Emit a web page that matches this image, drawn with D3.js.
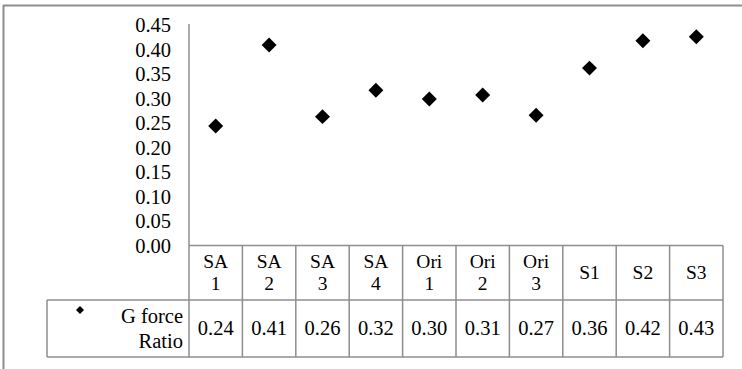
<!DOCTYPE html>
<html><head><meta charset="utf-8">
<script src="https://cdn.jsdelivr.net/npm/d3@7"></script>
<style>html,body{margin:0;padding:0;background:#fff;}svg{display:block;}</style>
</head><body>
<svg id="c" width="742" height="369"></svg>
<script>
const categories = ["SA 1","SA 2","SA 3","SA 4","Ori 1","Ori 2","Ori 3","S1","S2","S3"];
const gForceRatio = [0.244,0.409,0.263,0.317,0.299,0.307,0.266,0.362,0.418,0.426];
const yTicks = [0,0.05,0.10,0.15,0.20,0.25,0.30,0.35,0.40,0.45];
const seriesName = ["G force","Ratio"];

const svg = d3.select("#c");
const font = "'Liberation Serif','Times New Roman',serif";
const grid = "#8e8e8e";

// outer frame (partially cropped)
svg.append("line").attr("x1",3.5).attr("x2",3.5).attr("y1",5).attr("y2",369).attr("stroke",grid).attr("stroke-width",2);
svg.append("line").attr("x1",3).attr("x2",742).attr("y1",5.5).attr("y2",5.5).attr("stroke",grid).attr("stroke-width",2);

const x = d3.scaleBand().domain(categories).range([189,723]).padding(0);
const y = d3.scaleLinear().domain([0,0.45]).range([245.5,25]);

// y axis labels
const yAxis = d3.axisLeft(y).tickValues(yTicks).tickFormat(d3.format(".2f")).tickSize(0).tickPadding(18);
const ga = svg.append("g").attr("transform","translate(189,0)").call(yAxis);
ga.select(".domain").remove();
ga.selectAll("text").attr("font-family",font).attr("font-size",20.5).attr("fill","#000");

// y axis line
svg.append("line").attr("x1",189).attr("x2",189).attr("y1",24).attr("y2",245.5).attr("stroke",grid).attr("stroke-width",1.5);

// table
const tTop = 245.5, tMid = 300, tBot = 357, legL = 47;
const tg = svg.append("g").attr("stroke",grid).attr("stroke-width",1.5).attr("fill","none");
tg.append("line").attr("x1",189).attr("x2",x.range()[1]).attr("y1",tTop).attr("y2",tTop);
tg.append("line").attr("x1",legL).attr("x2",x.range()[1]).attr("y1",tMid).attr("y2",tMid);
tg.append("line").attr("x1",legL).attr("x2",x.range()[1]).attr("y1",tBot).attr("y2",tBot);
tg.append("line").attr("x1",legL).attr("x2",legL).attr("y1",tMid).attr("y2",tBot);
const edges = categories.map(c=>x(c)).concat([x.range()[1]]);
tg.selectAll("line.v").data(edges).join("line").attr("class","v")
  .attr("x1",d=>d).attr("x2",d=>d).attr("y1",tTop).attr("y2",tBot);

// header labels
const hg = svg.append("g").attr("font-family",font).attr("font-size",19.5).attr("text-anchor","middle").attr("fill","#000");
categories.forEach(c=>{
  const parts = c.split(" ");
  const cx = x(c)+x.bandwidth()/2;
  if(parts.length===2){
    hg.append("text").attr("x",cx).attr("y",268).text(parts[0]);
    hg.append("text").attr("x",cx).attr("y",289.5).text(parts[1]);
  } else {
    hg.append("text").attr("x",cx).attr("y",279).text(c);
  }
});
// values row
svg.append("g").selectAll("text").data(gForceRatio).join("text")
  .attr("x",(d,i)=>x(categories[i])+x.bandwidth()/2).attr("y",335)
  .attr("text-anchor","middle").attr("font-family",font).attr("font-size",20.5).attr("fill","#000")
  .text(d=>d3.format(".2f")(d));

// legend
svg.append("path").attr("d",d3.symbol(d3.symbolSquare,32)()).attr("transform","translate(80,310) rotate(45)").attr("fill","#000");
svg.append("text").attr("x",183).attr("y",323).attr("text-anchor","end").attr("font-family",font).attr("font-size",20.5).text(seriesName[0]);
svg.append("text").attr("x",183).attr("y",347.5).attr("text-anchor","end").attr("font-family",font).attr("font-size",20.5).text(seriesName[1]);

// points
svg.append("g").selectAll("path").data(gForceRatio).join("path")
  .attr("d",d3.symbol(d3.symbolSquare,112)())
  .attr("transform",(d,i)=>`translate(${x(categories[i])+x.bandwidth()/2},${y(d)}) rotate(45)`)
  .attr("fill","#000");
</script>
</body></html>
